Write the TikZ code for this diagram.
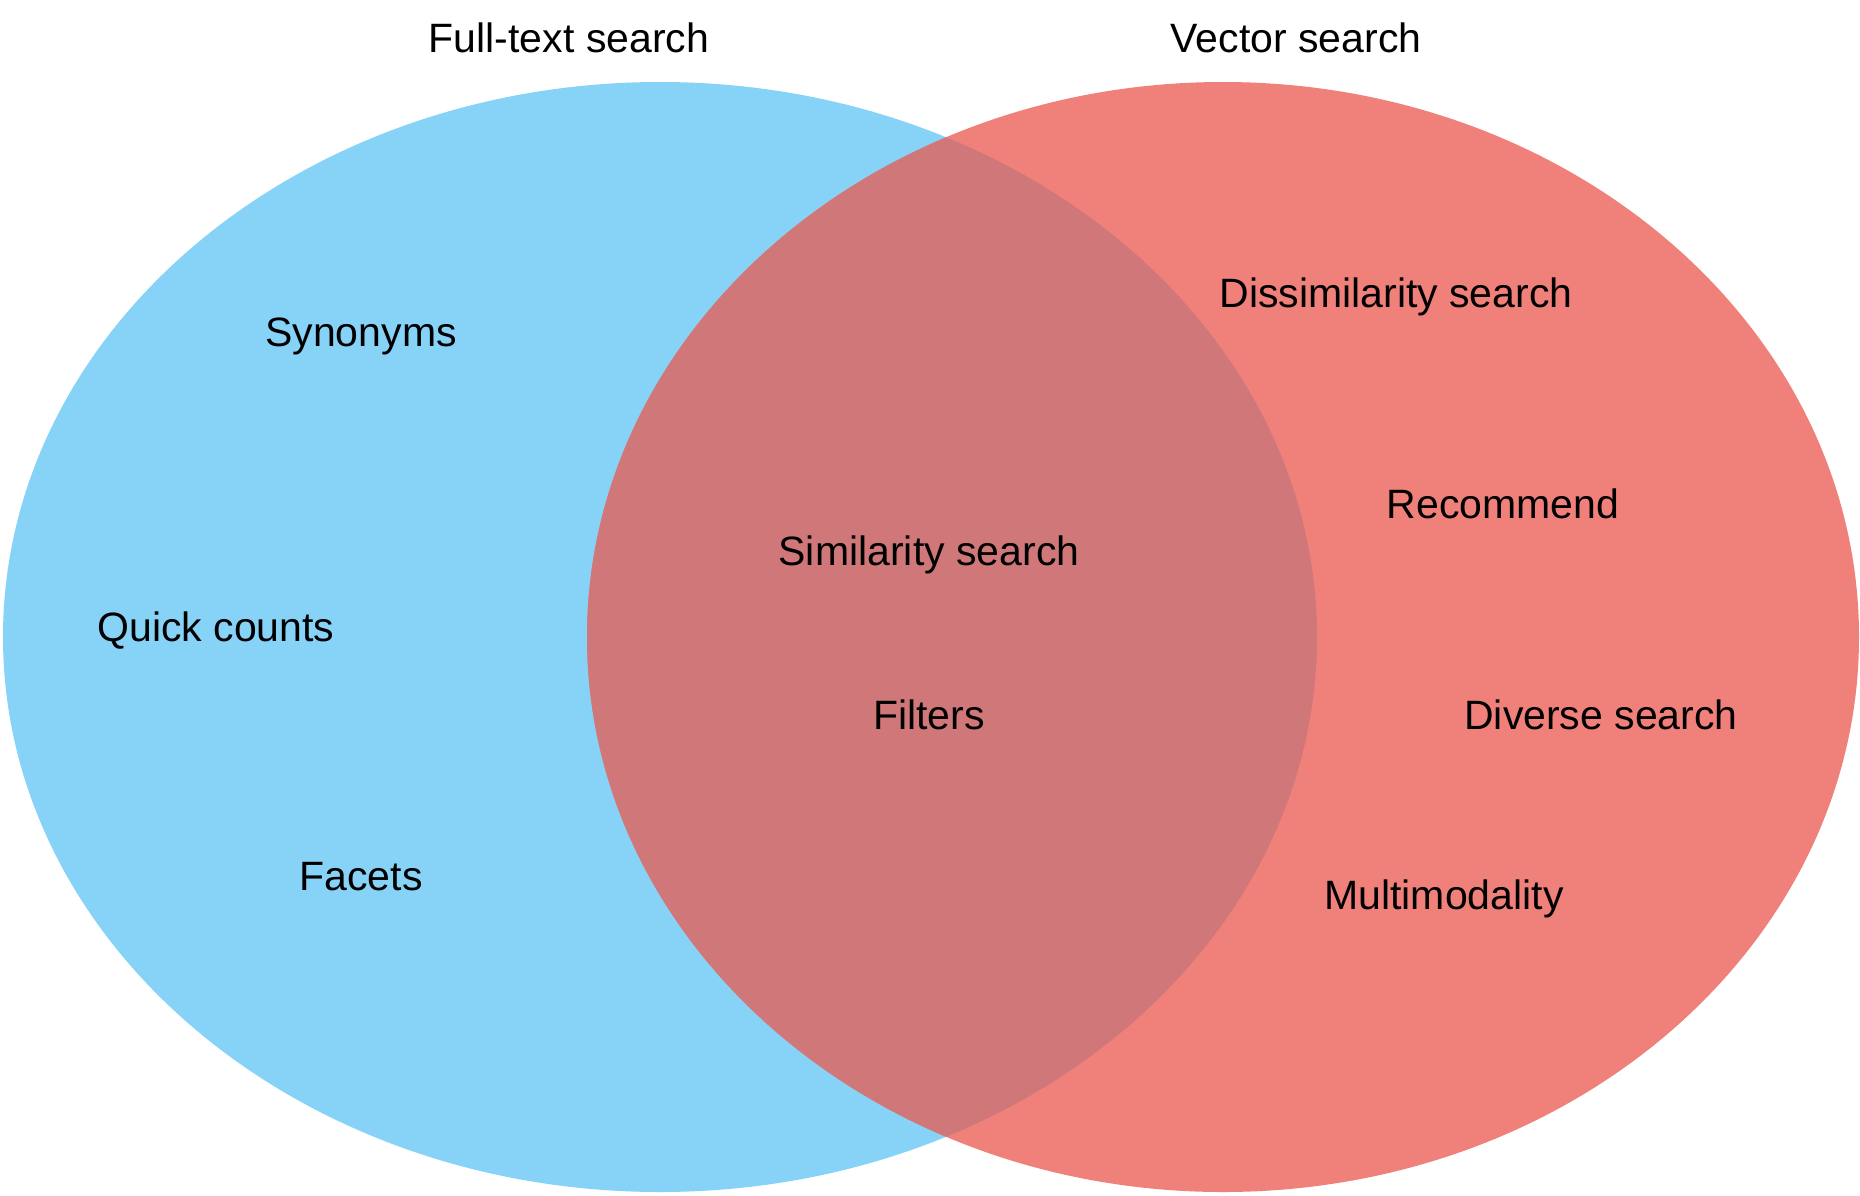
\documentclass[tikz,border=0pt]{standalone}
\usepackage{fontspec}
\setmainfont{Liberation Sans}
\begin{document}
\begin{tikzpicture}[x=1pt,y=-1pt,
  label/.style={font=\fontsize{41}{49}\selectfont, text=black, inner sep=0pt, anchor=base}]
\definecolor{ftblue}{RGB}{135,211,248}
\definecolor{vecred}{RGB}{240,129,122}
\definecolor{overlap}{RGB}{207,119,121}
\useasboundingbox (0,0) rectangle (1860,1195);
\fill[white] (0,0) rectangle (1860,1195);
% the two sets
\fill[ftblue] (660,637) ellipse [x radius=657, y radius=555];
\fill[vecred] (1223,637) ellipse [x radius=636, y radius=555];
% their intersection
\begin{scope}
  \clip (660,637) ellipse [x radius=657, y radius=555];
  \fill[overlap] (1223,637) ellipse [x radius=636, y radius=555];
\end{scope}
% set titles
\node[label] (fulltext) at (569,52) {Full-text search};
\node[label] (vector) at (1296,52) {Vector search};
% full-text only
\node[label] (synonyms) at (361,346) {Synonyms};
\node[label] (counts) at (216,641) {Quick counts};
\node[label] (facets) at (361,890) {Facets};
% shared
\node[label] (similarity) at (929,565) {Similarity search};
\node[label] (filters) at (929,729) {Filters};
% vector only
\node[label] (dissimilarity) at (1396,307) {Dissimilarity search};
\node[label] (recommend) at (1503,518) {Recommend};
\node[label] (diverse) at (1601,729) {Diverse search};
\node[label] (multimodal) at (1444,909) {Multimodality};
\end{tikzpicture}
\end{document}
